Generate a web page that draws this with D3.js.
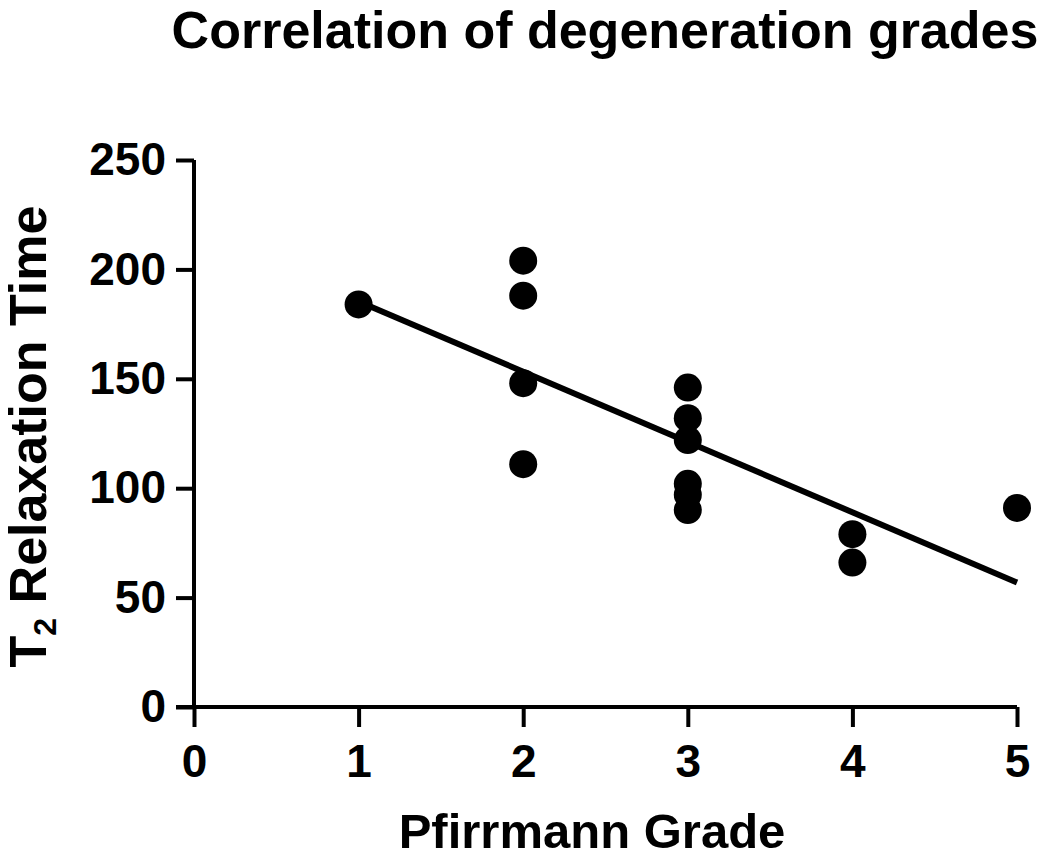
<!DOCTYPE html>
<html>
<head>
<meta charset="utf-8">
<script src="https://cdn.jsdelivr.net/npm/d3@7"></script>
<style>
  html, body { margin: 0; padding: 0; background: #fff; }
  svg { display: block; }
  text { font-family: "Liberation Sans", Arial, Helvetica, sans-serif; font-weight: bold; fill: #000; }
</style>
</head>
<body>
<svg id="chart" width="1050" height="857"></svg>
<script>
// ---- Data ----
const grades = [1, 2, 2, 2, 2, 3, 3, 3, 3, 3, 3, 4, 4, 5];
const t2Times = [184, 204, 188, 148, 111, 146, 132, 122, 102, 97, 90, 79, 66, 91];
const xTicks = [0, 1, 2, 3, 4, 5];
const yTicks = [0, 50, 100, 150, 200, 250];
const titleText = "Correlation of degeneration grades";
const xTitle = "Pfirrmann Grade";

// ---- Layout ----
const svg = d3.select("#chart");
const x = d3.scaleLinear().domain([0, 5]).range([194, 1017]);
const y = d3.scaleLinear().domain([0, 250]).range([707, 160]);

// linear regression computed from the data
const n = grades.length;
const mx = d3.mean(grades), my = d3.mean(t2Times);
let sxy = 0, sxx = 0;
for (let i = 0; i < n; i++) { sxy += (grades[i] - mx) * (t2Times[i] - my); sxx += (grades[i] - mx) ** 2; }
const slope = sxy / sxx, intercept = my - slope * mx;
const fitX = d3.extent(grades);

// Title
svg.append("text")
  .attr("x", 605).attr("y", 48)
  .attr("text-anchor", "middle")
  .style("font-size", "52px")
  .text(titleText);

// Y axis
const yAxis = svg.append("g")
  .attr("transform", `translate(${x(0)},0)`)
  .call(d3.axisLeft(y).tickValues(yTicks).tickSize(18).tickPadding(10).tickFormat(d3.format("d")));
yAxis.select(".domain").attr("stroke", "#000").attr("stroke-width", 4).attr("d", `M0,${y(0)}V${y(250)}`);
yAxis.selectAll(".tick line").attr("stroke", "#000").attr("stroke-width", 4);
yAxis.selectAll(".tick text")
  .style("font-family", '"Liberation Sans", Arial, sans-serif')
  .style("font-weight", "bold")
  .style("font-size", "46px")
  .attr("fill", "#000");

// X axis
const xAxis = svg.append("g")
  .attr("transform", `translate(0,${y(0)})`)
  .call(d3.axisBottom(x).tickValues(xTicks).tickSize(20).tickPadding(17).tickFormat(d3.format("d")));
xAxis.select(".domain").attr("stroke", "#000").attr("stroke-width", 4).attr("d", `M${x(0) - 18},0H${x(5)}`);
xAxis.selectAll(".tick line").attr("stroke", "#000").attr("stroke-width", 4);
xAxis.selectAll(".tick text")
  .style("font-family", '"Liberation Sans", Arial, sans-serif')
  .style("font-weight", "bold")
  .style("font-size", "46px")
  .attr("fill", "#000");

// X title
svg.append("text")
  .attr("x", 592).attr("y", 848)
  .attr("text-anchor", "middle")
  .style("font-size", "49px")
  .text(xTitle);

// Y title with subscript
const yt = svg.append("text")
  .attr("transform", `translate(46,${(y(0) + y(250)) / 2 + 3}) rotate(-90)`)
  .attr("text-anchor", "middle")
  .style("font-size", "52px");
yt.append("tspan").text("T");
yt.append("tspan").attr("dy", 10).style("font-size", "32px").text("2");
yt.append("tspan").attr("dy", -10).text(" Relaxation Time");

// Regression line
svg.append("line")
  .attr("x1", x(fitX[0])).attr("y1", y(intercept + slope * fitX[0]))
  .attr("x2", x(fitX[1])).attr("y2", y(intercept + slope * fitX[1]))
  .attr("stroke", "#000").attr("stroke-width", 6);

// Points
svg.append("g").selectAll("circle")
  .data(grades.map((g, i) => [g, t2Times[i]]))
  .join("circle")
  .attr("cx", d => x(d[0]))
  .attr("cy", d => y(d[1]))
  .attr("r", 14)
  .attr("fill", "#000");
</script>
</body>
</html>
